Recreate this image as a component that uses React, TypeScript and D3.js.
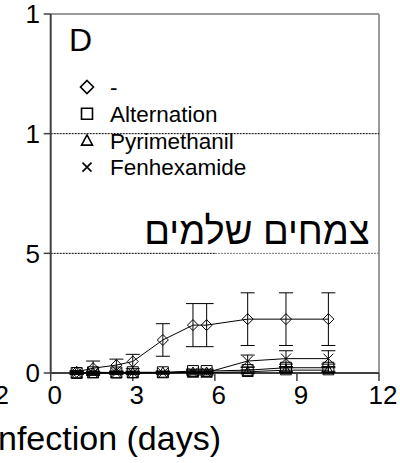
import React from "react";
import * as d3 from "d3";

const days = [0.95, 1.55, 2.4, 3, 4.1, 5.2, 5.7, 7.2, 8.6, 10.15];
const controlMean = [0.05, 0.2, 0.33, 0.48, 1.38, 2.0, 2.0, 2.25, 2.25, 2.25];
const controlErr = [0.05, 0.3, 0.25, 0.3, 0.68, 0.9, 0.9, 1.1, 1.1, 1.1];
const alternationMean = [0, 0.03, 0.02, 0.03, 0.03, 0.08, 0.08, 0.12, 0.22, 0.22];
const alternationErr = [0.05, 0.05, 0.05, 0.05, 0.05, 0.08, 0.08, 0.12, 0.15, 0.15];
const pyrimethanilMean = [0, 0, 0, 0, 0.02, 0.02, 0.02, 0.05, 0.12, 0.12];
const pyrimethanilErr = [0.05, 0.05, 0.05, 0.05, 0.05, 0.05, 0.05, 0.08, 0.1, 0.1];
const fenhexamideMean = [0, 0, 0, 0, 0, 0.02, 0.02, 0.5, 0.6, 0.6];
const fenhexamideErr = [0.05, 0.05, 0.05, 0.05, 0.05, 0.1, 0.1, 0.25, 0.33, 0.33];

const seriesNames = ["-", "Alternation", "Pyrimethanil", "Fenhexamide"];
const seriesMarkers = ["diamond", "square", "triangle", "cross"];
const seriesMeans = [controlMean, alternationMean, pyrimethanilMean, fenhexamideMean];
const seriesErrs = [controlErr, alternationErr, pyrimethanilErr, fenhexamideErr];

const xTicks = [0, 3, 6, 9, 12];
const xTickLabels = ["0", "3", "6", "9", "12"];
const yTicks = [0, 5, 10, 15];
const yTickLabels = ["0", "5", "1", "1"];
const gridValues = [5, 10];

const panelLabel = "D";
const hebrewLabel = "צמחים שלמים";
const xTitle = "Time after infection (days)";
const neighbourTick = "12";

const FONT = "'Liberation Sans', Arial, sans-serif";

function markerPath(kind: string, r: number): string {
  switch (kind) {
    case "diamond":
      return `M0,${-r}L${r},0L0,${r}L${-r},0Z`;
    case "square":
      return `M${-r},${-r}H${r}V${r}H${-r}Z`;
    case "triangle":
      return `M0,${-r}L${r},${r * 0.85}L${-r},${r * 0.85}Z`;
    default:
      return `M${-r},${-r}L${r},${r}M${r},${-r}L${-r},${r}`;
  }
}

export default function App() {
  const W = 400;
  const H = 463;
  const x = d3.scaleLinear().domain([0, 12]).range([50.7, 379]);
  const y = d3.scaleLinear().domain([0, 15]).range([373, 14]);
  const line = d3
    .line<[number, number]>()
    .x((d) => x(d[0]))
    .y((d) => y(d[1]));

  const legendY0 = 87;
  const legendDY = 26.7;

  return (
    <svg
      width={W}
      height={H}
      style={{ position: "absolute", left: 0, top: 0, background: "#fff" }}
      fontFamily={FONT}
    >
      <rect x={0} y={0} width={W} height={H} fill="#fff" />
      {/* frame top & right */}
      <line x1={x(0)} x2={x(12)} y1={y(15)} y2={y(15)} stroke="#9a9a9a" strokeWidth={2} />
      <line x1={x(12)} x2={x(12)} y1={y(15)} y2={y(0)} stroke="#9a9a9a" strokeWidth={2} />
      {/* grid */}
      {gridValues.map((g, i) => (
        <g key={"g" + i}>
          <line
            x1={x(0)}
            x2={i === 0 ? 215 : x(12)}
            y1={y(g)}
            y2={y(g)}
            stroke="#000"
            strokeWidth={1}
            strokeDasharray="2,1"
          />
          {i === 0 && (
            <line x1={215} x2={x(12)} y1={y(g)} y2={y(g)} stroke="#777" strokeWidth={1} strokeDasharray="2,1" />
          )}
        </g>
      ))}
      {/* axes */}
      <line x1={x(0)} x2={x(0)} y1={y(15)} y2={y(0)} stroke="#404040" strokeWidth={2} />
      <line x1={x(0)} x2={x(12)} y1={y(0)} y2={y(0)} stroke="#404040" strokeWidth={2} />
      {yTicks.map((t, i) => (
        <g key={"yt" + i}>
          <line x1={x(0) - 7} x2={x(0)} y1={y(t)} y2={y(t)} stroke="#404040" strokeWidth={1.5} />
          <text x={40} y={y(t)} dy="0.36em" textAnchor="end" fontSize={26} fill="#000">
            {yTickLabels[i]}
          </text>
        </g>
      ))}
      {xTicks.map((t, i) => (
        <g key={"xt" + i}>
          <line x1={x(t)} x2={x(t)} y1={y(0)} y2={y(0) + 8} stroke="#404040" strokeWidth={1.5} />
          <text x={x(t) + 4} y={404} textAnchor="middle" fontSize={26} fill="#000">
            {xTickLabels[i]}
          </text>
        </g>
      ))}
      <text x={9} y={404} textAnchor="end" fontSize={26} fill="#000">
        {neighbourTick}
      </text>
      <text x={221} y={450} textAnchor="end" fontSize={34} fill="#000">
        {xTitle}
      </text>
      <text x={69} y={51} fontSize={32} fill="#000">
        {panelLabel}
      </text>
      <text x={257} y={244} textAnchor="middle" fontSize={38} fill="#000">
        {hebrewLabel}
      </text>

      {/* series */}
      {seriesMeans.map((means, s) => {
        const errs = seriesErrs[s];
        const pts = days.map((d, i) => [d, means[i]] as [number, number]);
        return (
          <g key={"s" + s}>
            <path d={line(pts) || ""} fill="none" stroke="#000" strokeWidth={1} />
            {pts.map((p, i) => {
              const cx = x(p[0]);
              const top = y(p[1] + errs[i]);
              const bot = y(p[1] - errs[i]);
              return (
                <g key={"e" + i} stroke="#000" strokeWidth={1}>
                  <line x1={cx} x2={cx} y1={top} y2={bot} />
                  <line x1={cx - 7} x2={cx + 7} y1={top} y2={top} />
                  <line x1={cx - 7} x2={cx + 7} y1={bot} y2={bot} />
                </g>
              );
            })}
            {pts.map((p, i) => (
              <path
                key={"m" + i}
                d={markerPath(seriesMarkers[s], seriesMarkers[s] === "cross" ? 5 : 5.5)}
                transform={`translate(${x(p[0])},${y(p[1])})`}
                fill="none"
                stroke="#000"
                strokeWidth={1}
              />
            ))}
          </g>
        );
      })}

      {/* legend */}
      {seriesNames.map((n, i) => {
        const cy = legendY0 + i * legendDY;
        const k = seriesMarkers[i];
        const r = k === "diamond" ? 6.5 : k === "cross" ? 4.5 : 5.5;
        return (
          <g key={"l" + i}>
            <path
              d={markerPath(k, r)}
              transform={`translate(87,${cy})`}
              fill="none"
              stroke="#000"
              strokeWidth={1.6}
            />
            <text x={110} y={cy} dy="0.36em" fontSize={22.5} fill="#000">
              {n}
            </text>
          </g>
        );
      })}
    </svg>
  );
}
